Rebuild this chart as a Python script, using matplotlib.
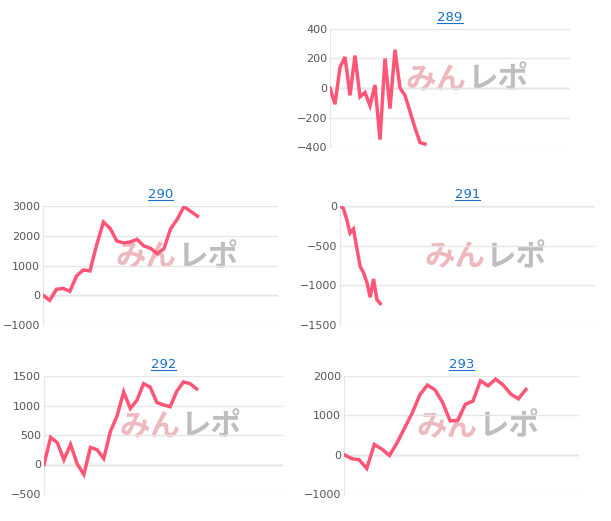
import matplotlib
matplotlib.use("Agg")
import matplotlib.pyplot as plt

titles = ["289", "290", "291", "292", "293"]
v289 = [0, -110, 140, 210, -50, 220, -60, -30, -120, 20, -350, 200, -140, 260, 0, -50, -160, -270, -370, -380]
v290 = [0, -170, 200, 230, 130, 650, 850, 820, 1700, 2460, 2250, 1820, 1760, 1790, 1880, 1660, 1580, 1400, 1560, 2230, 2560, 2980, 2820, 2660]
v291 = [0, -30, -170, -340, -290, -530, -760, -840, -960, -1150, -920, -1180, -1230]
v292 = [0, 460, 370, 80, 340, 10, -170, 290, 250, 100, 560, 820, 1230, 950, 1090, 1370, 1310, 1050, 1010, 980, 1240, 1400, 1370, 1280]
v293 = [0, -100, -130, -350, 260, 140, -20, 300, 680, 1060, 1520, 1770, 1650, 1330, 860, 870, 1280, 1360, 1880, 1750, 1920, 1770, 1540, 1420, 1660]
series = [v289, v290, v291, v292, v293]
xmax = [48, 35, 76, 36, 31]
yticks = [[-400, -200, 0, 200, 400], [-1000, 0, 1000, 2000, 3000], [-1500, -1000, -500, 0],
          [-500, 0, 500, 1000, 1500], [-1000, 0, 1000, 2000]]
# boxes in pixels: left, right, top, bottom
boxes = [(330, 570, 29, 147), (43, 278, 206, 325), (340, 595, 206, 325),
         (44, 283, 376, 494), (344, 579, 376, 494)]

W, H = 611, 521
fig = plt.figure(figsize=(W / 100, H / 100), dpi=100)
for t, v, xm, yt, (l, r, tp, b) in zip(titles, series, xmax, yticks, boxes):
    ax = fig.add_axes([l / W, 1 - b / H, (r - l) / W, (b - tp) / H])
    ax.set_xlim(0, xm)
    ax.set_ylim(yt[0], yt[-1])
    ax.set_yticks(yt)
    ax.set_xticks([])
    ax.grid(axis="y", color="#e6e6e6", lw=1)
    ax.axhline(0, color="#d0d0d0", lw=1, zorder=1)
    for s in ["top", "right", "bottom"]:
        ax.spines[s].set_visible(False)
    ax.spines["left"].set_color("#e6e6e6")
    ax.tick_params(axis="y", length=0, labelsize=8, labelcolor="#555555", pad=2)
    ax.text(0.57, 0.57, "みん", transform=ax.transAxes, ha="right", va="center",
            fontsize=22, fontweight="bold", style="italic", color="#e8a0a8", alpha=0.75,
            family=["Noto Sans CJK JP", "DejaVu Sans"], zorder=0)
    ax.text(0.57, 0.57, "レポ", transform=ax.transAxes, ha="left", va="center",
            fontsize=22, fontweight="bold", style="italic", color="#a8a8a8", alpha=0.75,
            family=["Noto Sans CJK JP", "DejaVu Sans"], zorder=0)
    ax.plot(range(len(v)), v, color="#ff5577", lw=2.5, zorder=3, solid_joinstyle="miter")
    ax.set_title(t, fontsize=9.5, color="#1a6fc9", pad=6)
fig.canvas.draw()
for ax in fig.axes:
    bb = ax.title.get_window_extent()
    x0, x1, y0 = bb.x0 / W, bb.x1 / W, (bb.y0 + 1) / H
    fig.add_artist(plt.Line2D([x0, x1], [y0, y0], color="#1a6fc9", lw=0.8))
fig.savefig("out.png", dpi=100)
